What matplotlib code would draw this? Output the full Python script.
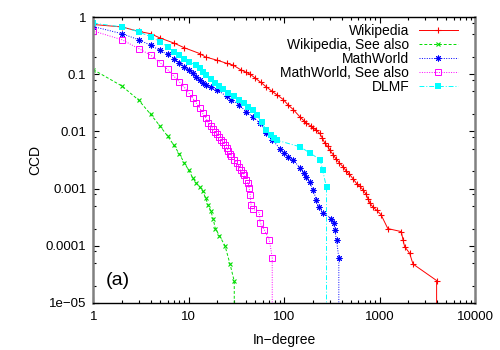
import matplotlib
matplotlib.use('Agg')
import matplotlib.pyplot as plt
from matplotlib.ticker import LogLocator, NullFormatter, FixedLocator

plt.rcParams['font.family'] = ['Liberation Sans', 'DejaVu Sans']

# CCD data (degree, CCD); final 0 = curve runs off the bottom
wiki_deg = [1, 2, 3, 4, 5, 7, 9, 13, 15, 20, 25, 29, 35, 40, 44, 50, 57, 65, 75, 85, 98, 110,
            125, 146, 160, 171, 190, 200, 218, 236, 250, 267, 285, 301, 327, 350, 380, 415,
            450, 480, 525, 580, 620, 672, 720, 760, 794, 850, 930, 1035, 1220, 1690, 1760,
            1830, 2065, 2240, 3960, 3960]
wiki_ccd = [0.74, 0.67, 0.56, 0.51, 0.43, 0.35, 0.29, 0.23, 0.20, 0.175, 0.155, 0.145, 0.12,
            0.108, 0.10, 0.085, 0.072, 0.060, 0.05, 0.043, 0.036, 0.029, 0.024, 0.018, 0.0155,
            0.0138, 0.0125, 0.0115, 0.0105, 0.0092, 0.0078, 0.0062, 0.0055, 0.0047, 0.0039,
            0.0033, 0.0028, 0.0024, 0.0020, 0.0018, 0.0015, 0.0012, 0.0011, 0.00095, 0.0008,
            0.00065, 0.00055, 0.00048, 0.00042, 0.00035, 0.0002, 0.000177, 0.000127, 9.7e-5,
            7.4e-5, 4.8e-5, 2.47e-5, 0]

wsee_deg = [1, 2, 3, 4, 5, 6, 7, 8, 9, 10, 11, 12, 13, 14, 15, 16, 17, 18, 19, 21, 24, 27, 30, 30]
wsee_ccd = [0.12, 0.062, 0.035, 0.0198, 0.0124, 0.0083, 0.0057, 0.0040, 0.0028, 0.0021,
            0.00155, 0.00124, 0.00108, 0.00091, 0.00069, 0.00051, 0.00041, 0.00030, 0.00020,
            0.00015, 0.0001, 4.9e-5, 2.4e-5, 0]

mw_deg = [1, 2, 3, 4, 5, 6, 7, 8, 9, 10, 11, 12, 13, 14, 15, 17, 20, 25, 28, 34, 40, 47, 56,
          65, 75, 90, 100, 110, 124, 146, 160, 171, 185, 201, 218, 230, 256, 313, 331, 339,
          354, 374, 374]
mw_ccd = [0.68, 0.51, 0.40, 0.32, 0.26, 0.223, 0.188, 0.16, 0.134, 0.117, 0.103, 0.09, 0.0785,
          0.0705, 0.064, 0.0586, 0.0526, 0.041, 0.036, 0.0288, 0.022, 0.018, 0.0138, 0.0095,
          0.0072, 0.005, 0.0042, 0.0036, 0.0032, 0.0023, 0.0019, 0.0016, 0.0013, 0.00095,
          0.00063, 0.00048, 0.00037, 0.0003, 0.000248, 0.00019, 0.000127, 6.1e-5, 0]

mwsee_deg = [1, 2, 3, 4, 5, 6, 7, 8, 9, 10, 11, 12, 13, 14, 15, 16, 17, 18, 19, 20, 21, 22,
             23, 24, 25, 26, 27, 28, 30, 32, 34, 35, 37, 38, 40, 42, 43, 44, 45, 47, 55, 56,
             62, 70, 75, 75]
mwsee_ccd = [0.57, 0.40, 0.28, 0.215, 0.16, 0.121, 0.092, 0.073, 0.059, 0.047, 0.038, 0.0316,
             0.0258, 0.0206, 0.0175, 0.0143, 0.0125, 0.011, 0.0098, 0.0089, 0.0081, 0.0071,
             0.0064, 0.0058, 0.0052, 0.0046, 0.0041, 0.0037, 0.0032, 0.0028, 0.0024, 0.0021,
             0.00185, 0.0017, 0.00141, 0.00125, 0.00101, 0.00078, 0.00052, 0.00044, 0.00038,
             0.000254, 0.000189, 0.000127, 6.2e-5, 0]

dlmf_deg = [1, 2, 3, 4, 5, 6, 7, 8, 9, 10, 12, 13, 14, 15, 17, 19, 21, 23, 26, 30, 34, 38,
            42, 47, 52, 58, 65, 72, 78, 84, 146, 186, 239, 253, 278, 278]
dlmf_ccd = [0.78, 0.67, 0.55, 0.45, 0.37, 0.30, 0.245, 0.215, 0.187, 0.164, 0.144, 0.126,
            0.11, 0.096, 0.084, 0.069, 0.062, 0.055, 0.047, 0.041, 0.036, 0.031, 0.027,
            0.0235, 0.019, 0.0145, 0.0105, 0.0088, 0.0078, 0.007, 0.0054, 0.0042, 0.0032,
            0.0021, 0.00105, 0]

xticks = [1, 10, 100, 1000, 10000]
xticklabels = ['1', '10', '100', '1000', '10000']
yticks = [1e-5, 1e-4, 1e-3, 1e-2, 1e-1, 1]
yticklabels = ['1e\u221205', '0.0001', '0.001', '0.01', '0.1', '1']

fig = plt.figure(figsize=(5, 3.5), dpi=100)
ax = fig.add_axes([0.1866, 0.1343, 0.7634, 0.8171])

lw = 0.7
ax.plot(wiki_deg, wiki_ccd, color='#ff0000', ls='-', lw=lw, marker='+', ms=4, mew=0.8,
        label='Wikipedia')
ax.plot(wsee_deg, wsee_ccd, color='#00dd00', ls=(0, (3, 2)), lw=lw, marker='x', ms=3.5, mew=0.8,
        label='Wikipedia, See also')
ax.plot(mw_deg, mw_ccd, color='#0000ff', ls=(0, (1, 1.5)), lw=lw, marker=(8, 2, 0), ms=4.2,
        mew=0.7, label='MathWorld')
ax.plot(mwsee_deg, mwsee_ccd, color='#ff00ff', ls=(0, (1, 1.5)), lw=lw, marker='s', ms=4,
        mfc='none', mew=0.7, label='MathWorld, See also')
ax.plot(dlmf_deg, dlmf_ccd, color='#00ffff', ls=(0, (5, 2, 1, 2)), lw=lw, marker='s', ms=4.2,
        mew=0, label='DLMF')

ax.set_xscale('log')
ax.set_yscale('log')
ax.set_xlim(1, 10000)
ax.set_ylim(1e-5, 1)

ax.xaxis.set_major_locator(FixedLocator(xticks))
ax.set_xticklabels(xticklabels)
ax.xaxis.set_minor_locator(LogLocator(base=10, subs=range(2, 10)))
ax.xaxis.set_minor_formatter(NullFormatter())
ax.yaxis.set_major_locator(FixedLocator(yticks))
ax.set_yticklabels(yticklabels)
ax.yaxis.set_minor_locator(LogLocator(base=10, subs=[2, 5, 8]))
ax.yaxis.set_minor_formatter(NullFormatter())

ax.tick_params(which='both', direction='in', top=True, right=True, labelsize=9.5, width=0.8)
ax.tick_params(which='major', length=4)
ax.tick_params(which='minor', length=2.2)
ax.tick_params(axis='x', pad=6)
ax.tick_params(axis='y', pad=5)

for s in ['left', 'right']:
    ax.spines[s].set_color('#808080')
    ax.spines[s].set_linewidth(1.8)
for s in ['top', 'bottom']:
    ax.spines[s].set_color('black')
    ax.spines[s].set_linewidth(1.0)

ax.set_xlabel('In\u2212degree', fontsize=10)
ax.set_ylabel('CCD', fontsize=10)
ax.xaxis.set_label_coords(0.5, -0.105)
ax.yaxis.set_label_coords(-0.135, 0.5)

ax.text(0.033, 0.08, '(a)', transform=ax.transAxes, fontsize=14, ha='left', va='center')

ax.legend(loc='upper right', bbox_to_anchor=(0.955, 0.975), frameon=False, markerfirst=False,
          handlelength=2.8, handletextpad=0.7, labelspacing=0.0, fontsize=10,
          borderpad=0, borderaxespad=0, numpoints=1)

plt.savefig('out.png', dpi=100)
plt.close()
